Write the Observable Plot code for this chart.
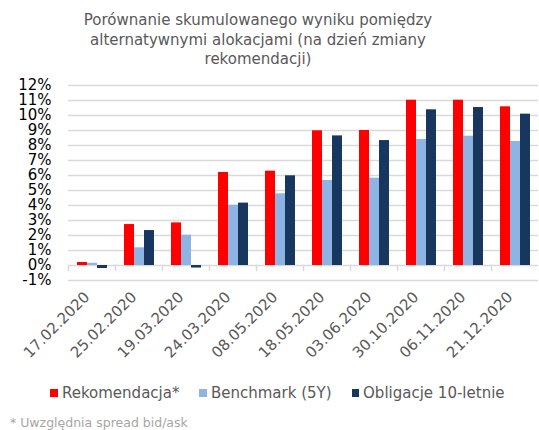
<!DOCTYPE html>
<html>
<head>
<meta charset="utf-8">
<script src="https://cdn.jsdelivr.net/npm/d3@7"></script>
<script src="https://cdn.jsdelivr.net/npm/@observablehq/plot@0.6"></script>
<style>
  body { margin: 0; background: #fff; font-family: "DejaVu Sans", Verdana, sans-serif; }
  #wrap { position: relative; width: 539px; height: 430px; overflow: hidden; background: #fff; }
  #title { position: absolute; left: 0; top: 11px; width: 516px; text-align: center; color: #595959; font-size: 15px; line-height: 19.7px; }
  #chart { position: absolute; left: 0; top: 70px; }
  #legend { position: absolute; left: 0; top: 384px; width: 555px; display: flex; justify-content: center; gap: 20px; color: #595959; font-size: 15px; line-height: 18px; }
  #legend .item { display: flex; align-items: center; gap: 4px; white-space: nowrap; }
  #legend .sw { width: 7.5px; height: 7.5px; display: inline-block; }
  #note { position: absolute; left: 10px; top: 415px; color: #a6a6a6; font-size: 12.5px; line-height: 15px; }
</style>
</head>
<body>
<div id="wrap">
  <div id="title"></div>
  <div id="chart"></div>
  <div id="legend"></div>
  <div id="note"></div>
</div>
<script>
const titleLines = ["Porównanie skumulowanego wyniku pomiędzy", "alternatywnymi alokacjami (na dzień zmiany", "rekomendacji)"];
const note = "* Uwzględnia spread bid/ask";
const dates = ["17.02.2020", "25.02.2020", "19.03.2020", "24.03.2020", "08.05.2020", "18.05.2020", "03.06.2020", "30.10.2020", "06.11.2020", "21.12.2020"];
const series = ["Rekomendacja*", "Benchmark (5Y)", "Obligacje 10-letnie"];
const rekomendacja = [0.2, 2.73, 2.84, 6.2, 6.29, 8.98, 9.0, 11.02, 11.02, 10.58];
const benchmark = [0.15, 1.18, 2.02, 4.02, 4.78, 5.67, 5.82, 8.4, 8.62, 8.27];
const obligacje = [-0.2, 2.33, -0.17, 4.16, 5.98, 8.64, 8.33, 10.38, 10.53, 10.09];
const colors = ["#FF0000", "#8DB4E2", "#17375E"];
const yTicks = [-1, 0, 1, 2, 3, 4, 5, 6, 7, 8, 9, 10, 11, 12];

const valuesBySeries = [rekomendacja, benchmark, obligacje];
const data = dates.flatMap((d, i) => series.map((s, j) => ({date: d, series: s, value: valuesBySeries[j][i]})));

document.getElementById("title").innerHTML = titleLines.join("<br>");
document.getElementById("note").textContent = note;
const legend = document.getElementById("legend");
series.forEach((s, j) => {
  const it = document.createElement("span");
  it.className = "item";
  const sw = document.createElement("span");
  sw.className = "sw";
  sw.style.background = colors[j];
  const tx = document.createElement("span");
  tx.textContent = s;
  it.append(sw, tx);
  legend.append(it);
});

const chart = Plot.plot({
  width: 539,
  height: 305,
  marginTop: 15,
  marginBottom: 95,
  marginLeft: 67,
  marginRight: 0,
  style: {fontFamily: "DejaVu Sans, Verdana, sans-serif", fontSize: "15px", color: "#000", background: "white", overflow: "visible"},
  fx: {domain: dates, padding: 0, label: null},
  x: {domain: series, paddingInner: 0, paddingOuter: 0.645, axis: null},
  y: {domain: [-1, 12], axis: null, label: null},
  color: {domain: series, range: colors},
  marks: [
    Plot.gridY(yTicks, {stroke: "#d9d9d9", strokeOpacity: 1, strokeWidth: 1.5}),
    Plot.frame({anchor: "left", stroke: "#d9d9d9", strokeOpacity: 1, strokeWidth: 1.5, insetTop: 180, insetBottom: 10}),
    Plot.barY(data, {fx: "date", x: "series", y: "value", fill: "series"}),
    Plot.axisY(yTicks, {tickFormat: d => d + "%", tickSize: 0, tickPadding: 17, fontSize: 15, fill: "#000", label: null}),
    Plot.axisFx({anchor: "bottom", tickRotate: -45, tickSize: 0, tickPadding: 14, dx: -5, fontSize: 15, fill: "#595959", label: null})
  ]
});
document.getElementById("chart").append(chart);
</script>
</body>
</html>
